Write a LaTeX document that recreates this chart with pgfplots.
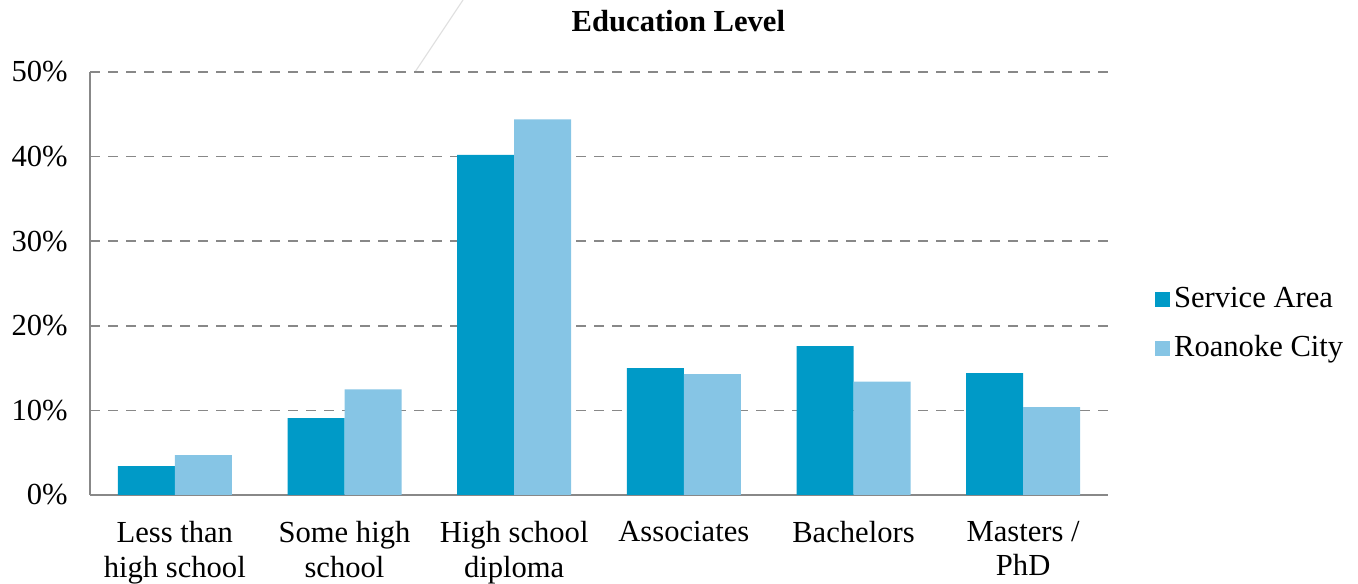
\documentclass[border=0pt]{standalone}
\usepackage{pgfplots}
\pgfplotsset{compat=1.18}
\usepackage{fontspec}
\setmainfont{Liberation Serif}
\definecolor{svc}{HTML}{009AC7}
\definecolor{roa}{HTML}{86C5E5}
\definecolor{gridc}{HTML}{888888}
\begin{document}
\begin{tikzpicture}
\fontsize{15}{18}\selectfont
% page frame 1358x583 px at 0.5pt per px
\path[use as bounding box] (0pt,0pt) rectangle (679pt,291.5pt);
% faint frame edge seen in the reference
\draw[black!12,line width=0.6pt] (207.5pt,255.5pt) -- (231.5pt,291.5pt);
\begin{axis}[
    at={(45pt,44pt)},anchor=south west,
    scale only axis,
    width=509pt, height=211.5pt,
    ybar=0pt, bar width=28.5pt,
    ymin=0, ymax=50, ytick={0,10,...,50},
    xmin=-0.5, xmax=5.5,
    xtick=data,
    xticklabels={{Less than\\high school},{Some high\\school},{High school\\diploma},{Associates},{Bachelors},{Masters /\\PhD}},
    xticklabel style={align=center, font=\fontsize{15.3}{17.2}\selectfont, yshift=-8pt},
    yticklabel={\pgfmathprintnumber{\tick}\%},
    yticklabel style={font=\fontsize{15.3}{18}\selectfont, xshift=-6pt},
    /pgf/number format/assume math mode=true,
    axis x line*=bottom, axis y line*=left,
    axis line style={gridc, line width=1pt},
    x axis line style={-}, y axis line style={-},
    major tick length=0pt,
    ymajorgrids, major grid style={gridc, dashed, dash pattern=on 5pt off 4pt, line width=0.8pt},
    title={\textbf{Education Level}},
    title style={at={(axis description cs:0.578,1.092)}, anchor=center, font=\fontsize{15.3}{18}\selectfont},
    legend style={at={(axis description cs:1.040,0.404)}, anchor=west, draw=none, fill=none,
        font=\fontsize{15.3}{18}\selectfont, row sep=8pt},
    legend cell align=left,
    legend image code/.code={\fill[#1] (-1.5pt,-3.75pt) rectangle (6pt,3.75pt);},
    enlargelimits=false,
    clip=false,
]
\addplot[fill=svc, draw=none] coordinates {(0,3.4) (1,9.1) (2,40.2) (3,15.0) (4,17.6) (5,14.4)};
\addplot[fill=roa, draw=none] coordinates {(0,4.7) (1,12.5) (2,44.4) (3,14.3) (4,13.4) (5,10.4)};
\legend{Service Area, Roanoke City}
\end{axis}
\end{tikzpicture}
\end{document}
